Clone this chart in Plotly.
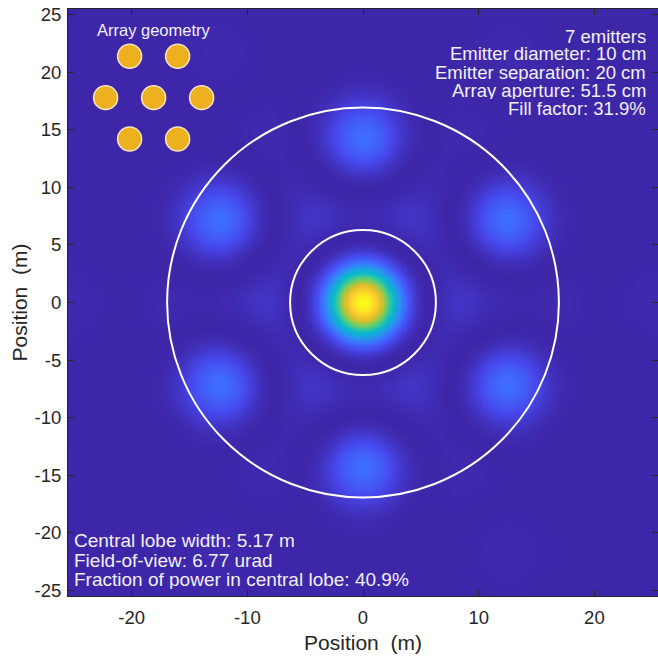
import numpy as np
import plotly.graph_objects as go

# ---- optical set-up -------------------------------------------------------
wavelength_m = 1.064e-6
range_m = 2.5e6
emitter_diameter_cm = 10.0
emitter_separation_cm = 20.0
array_aperture_cm = 51.5

# emitter centres, hexagonal packing (2 / 3 / 2 rows), in cm
emitter_x_cm = [-10.0, 10.0, -20.0, 0.0, 20.0, -10.0, 10.0]
emitter_y_cm = [17.32, 17.32, 0.0, 0.0, 0.0, -17.32, -17.32]

# annotation text
info_lines = [
    "7 emitters",
    "Emitter diameter: 10 cm",
    "Emitter separation: 20 cm",
    "Array aperture: 51.5 cm",
    "Fill factor: 31.9%",
]
lobe_lines = [
    "Central lobe width: 5.17 m",
    "Field-of-view: 6.77 urad",
    "Fraction of power in central lobe: 40.9%",
]
inset_title = "Array geometry"

x_ticks = [-20, -10, 0, 10, 20]
y_ticks = [-25, -20, -15, -10, -5, 0, 5, 10, 15, 20, 25]

# parula colour map
parula = [
    (0.2422, 0.1504, 0.6603), (0.2803, 0.2782, 0.9221), (0.2440, 0.4358, 0.9988),
    (0.1540, 0.5902, 0.9218), (0.0297, 0.7082, 0.8163), (0.1938, 0.7758, 0.6251),
    (0.5044, 0.7993, 0.3480), (0.8634, 0.7406, 0.1596), (0.9892, 0.8136, 0.1885),
    (0.9769, 0.9839, 0.0805),
]
colorscale = [
    [i / (len(parula) - 1), "rgb({:.0f},{:.0f},{:.0f})".format(r * 255, g * 255, b * 255)]
    for i, (r, g, b) in enumerate(parula)
]
bg_color = colorscale[0][1]

# ---- far-field intensity of the Gaussian-beam array ------------------------
grid = np.round(np.arange(-25.4, 25.4001, 0.2), 2)
X, Y = np.meshgrid(grid, grid)
xn = np.array(emitter_x_cm) / 100.0
yn = np.array(emitter_y_cm) / 100.0
k_over_z = 2 * np.pi / (wavelength_m * range_m)
array_factor = np.zeros_like(X, dtype=complex)
for a, b in zip(xn, yn):
    array_factor += np.exp(1j * k_over_z * (a * X + b * Y))
waist = emitter_diameter_cm / 200.0
fov_rad = wavelength_m / (np.pi * waist)          # single-beam divergence half-angle
far_radius = fov_rad * range_m                    # 1/e^2 beam radius at range
intensity = np.abs(array_factor) ** 2 * np.exp(-2 * (X ** 2 + Y ** 2) / far_radius ** 2)
intensity = np.round(intensity / intensity.max(), 4)

r_outer = far_radius
r_inner = 1.22 * wavelength_m * range_m / (array_aperture_cm / 100.0)

fig = go.Figure(
    go.Heatmap(
        x=grid, y=grid, z=intensity, colorscale=colorscale, zmin=0, zmax=1,
        showscale=False, zsmooth="best", hoverinfo="skip",
    )
)

shapes = []
for r in (r_inner, r_outer):
    shapes.append(dict(
        type="circle", xref="x", yref="y", x0=-r, y0=-r, x1=r, y1=r,
        line=dict(color="white", width=2), layer="above",
    ))

# array-geometry inset
inset_cx, inset_cy, inset_scale = -18.1, 17.8, 0.2075
er = emitter_diameter_cm / 2 * inset_scale
for a, b in zip(emitter_x_cm, emitter_y_cm):
    cx, cy = inset_cx + a * inset_scale, inset_cy + b * inset_scale
    shapes.append(dict(
        type="circle", xref="x", yref="y", x0=cx - er, y0=cy - er, x1=cx + er, y1=cy + er,
        fillcolor="#EDB120", line=dict(color="#F6E6C2", width=1.5), layer="above",
    ))

font = "Liberation Sans, Arial, Helvetica, sans-serif"
text_color = "#F2F0FA"
annotations = [dict(
    x=inset_cx, y=23.7, xref="x", yref="y", text=inset_title, showarrow=False,
    xanchor="center", yanchor="middle", font=dict(family=font, size=16.5, color=text_color),
)]
info_y = [0.954, 0.9245, 0.893, 0.862, 0.831]
for line, yy in zip(info_lines, info_y):
    annotations.append(dict(
        x=0.983, y=yy, xref="paper", yref="paper", text=line, showarrow=False,
        xanchor="right", yanchor="middle", height=18, valign="middle",
        font=dict(family=font, size=18.5, color=text_color),
    ))
lobe_y = [0.0942, 0.0601, 0.0273]
for line, yy in zip(lobe_lines, lobe_y):
    annotations.append(dict(
        x=0.006, y=yy, xref="paper", yref="paper", text=line, showarrow=False,
        xanchor="left", yanchor="middle", height=19, valign="middle",
        font=dict(family=font, size=19, color=text_color),
    ))

axis_common = dict(
    showgrid=False, zeroline=False, showline=True, linecolor="#262626", linewidth=1,
    mirror="ticks", ticks="inside", ticklen=6, tickwidth=1, tickcolor="#262626",
    tickfont=dict(family=font, size=18.5, color="#262626"),
    title_font=dict(family=font, size=21, color="#262626"),
)
fig.update_layout(
    width=658, height=657,
    margin=dict(l=68, r=0, t=9, b=61),
    paper_bgcolor="white", plot_bgcolor=bg_color,
    shapes=shapes, annotations=annotations,
    xaxis=dict(range=[-25.5, 25.5], tickvals=x_ticks, ticktext=[str(v) for v in x_ticks],
               ticklabelstandoff=5, title_text="Position\u00a0 (m)", title_standoff=8,
               **axis_common),
    yaxis=dict(range=[-25.5, 25.5], tickvals=y_ticks, ticktext=[str(v) for v in y_ticks],
               ticklabelstandoff=2, title_text="Position\u00a0 (m)", title_standoff=1,
               **axis_common),
)

fig.write_html("out.html")
